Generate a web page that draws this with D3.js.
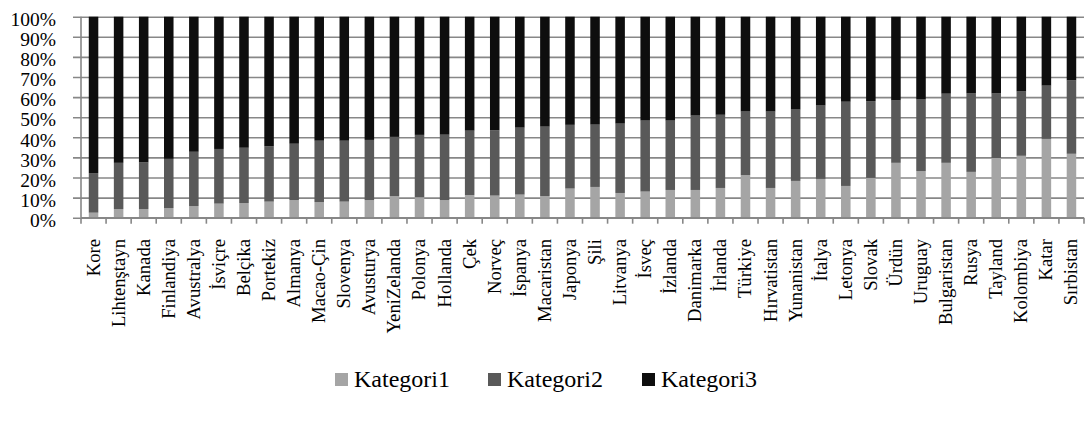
<!DOCTYPE html>
<html>
<head>
<meta charset="utf-8">
<script src="https://cdn.jsdelivr.net/npm/d3@7"></script>
<style>
  html, body { margin: 0; padding: 0; background: #fff; }
  svg { display: block; }
</style>
</head>
<body>
<svg id="chart" width="1088" height="421"></svg>
<script>
// Countries along the x axis
const countries = ["Kore","Lihtenştayn","Kanada","Finlandiya","Avustralya","İsviçre","Belçika","Portekiz","Almanya","Macao-Çin","Slovenya","Avusturya","YeniZelanda","Polonya","Hollanda","Çek","Norveç","İspanya","Macaristan","Japonya","Şili","Litvanya","İsveç","İzlanda","Danimarka","İrlanda","Türkiye","Hırvatistan","Yunanistan","İtalya","Letonya","Slovak","Ürdün","Uruguay","Bulgaristan","Rusya","Tayland","Kolombiya","Katar","Sırbistan"];

// Share of each category per country (%)
const kategori1 = [2.5,4.3,4.3,4.8,5.8,7.0,7.3,8.0,8.8,7.8,8.0,8.8,10.7,10.2,8.8,11.3,11.0,11.5,10.8,14.5,15.3,12.3,13.0,13.8,13.8,14.8,21.2,14.8,18.3,19.3,15.8,19.8,27.3,23.2,27.3,22.8,29.7,30.8,39.2,31.8];
const kategori2 = [19.7,23.0,23.2,24.5,27.0,27.2,27.5,27.5,28.0,30.5,30.3,29.9,29.5,31.0,32.5,32.0,32.5,33.3,34.5,31.7,31.0,34.5,35.3,34.5,37.0,36.4,31.6,38.0,35.5,36.5,41.9,38.2,31.0,35.6,34.4,39.0,32.1,32.0,26.5,36.5];
const kategori3 = [77.8,72.7,72.5,70.7,67.2,65.8,65.2,64.5,63.2,61.7,61.7,61.3,59.8,58.8,58.7,56.7,56.5,55.2,54.7,53.8,53.7,53.2,51.7,51.7,49.2,48.8,47.2,47.2,46.2,44.2,42.3,42.0,41.7,41.2,38.3,38.2,38.2,37.2,34.3,31.7];

const seriesNames = ["Kategori1","Kategori2","Kategori3"];
const yTicks = [0,10,20,30,40,50,60,70,80,90,100];

const colors = { Kategori1: "#a5a5a5", Kategori2: "#595959", Kategori3: "#0e0e0e" };
const gridColor = "#878787";
const FONT = "Liberation Serif";

const rows = countries.map((c, i) => ({
  country: c,
  Kategori1: kategori1[i],
  Kategori2: kategori2[i],
  Kategori3: kategori3[i]
}));

const svg = d3.select("#chart").attr("font-family", FONT);
const plot = { left: 81, right: 1084, top: 16.7, bottom: 217.7 };

const x = d3.scaleBand()
  .domain(countries)
  .range([plot.left, plot.right])
  .paddingInner(0.62)
  .paddingOuter(0.31);

const y = d3.scaleLinear()
  .domain([0, 100])
  .range([plot.bottom, plot.top]);

// Horizontal gridlines with outer tick marks on the left
const yAxis = d3.axisLeft(y)
  .tickValues(yTicks)
  .tickSize(plot.right - plot.left + 8)
  .tickPadding(17)
  .tickFormat(d => d + "%");

const gy = svg.append("g")
  .attr("transform", `translate(${plot.right},0)`)
  .call(yAxis)
  .attr("font-family", FONT)
  .attr("font-size", 19.5);
gy.select(".domain").remove();
gy.selectAll(".tick line")
  .attr("stroke", gridColor)
  .attr("stroke-width", 1.6);
gy.selectAll(".tick text")
  .attr("fill", "#000")
  .attr("dy", "0.45em")
  .style("font-family", FONT);

// Vertical axis line
svg.append("line")
  .attr("x1", plot.left).attr("x2", plot.left)
  .attr("y1", plot.top).attr("y2", plot.bottom)
  .attr("stroke", gridColor).attr("stroke-width", 1.6);

// Stacked bars
const stack = d3.stack().keys(seriesNames);
const layers = stack(rows);

svg.append("g")
  .selectAll("g")
  .data(layers)
  .join("g")
  .attr("fill", d => colors[d.key])
  .selectAll("rect")
  .data(d => d)
  .join("rect")
  .attr("x", d => x(d.data.country))
  .attr("width", x.bandwidth())
  .attr("y", d => y(d[1]))
  .attr("height", d => y(d[0]) - y(d[1]));

// Category axis: ticks sit between the bars
const step = x.step();
const boundaries = d3.range(countries.length + 1).map(i => plot.left + i * step);
svg.append("line")
  .attr("x1", plot.left).attr("x2", plot.right)
  .attr("y1", plot.bottom).attr("y2", plot.bottom)
  .attr("stroke", gridColor).attr("stroke-width", 1.6);
svg.append("g")
  .selectAll("line")
  .data(boundaries)
  .join("line")
  .attr("x1", d => d).attr("x2", d => d)
  .attr("y1", plot.bottom).attr("y2", plot.bottom + 6)
  .attr("stroke", gridColor).attr("stroke-width", 1.6);

// Rotated country labels
svg.append("g")
  .selectAll("text")
  .data(countries)
  .join("text")
  .attr("transform", d => `translate(${x(d) + x.bandwidth() / 2},239) rotate(-90)`)
  .attr("text-anchor", "end")
  .attr("dy", "0.32em")
  .attr("font-size", 18.67)
  .style("font-family", FONT)
  .text(d => d);

// Legend
const legendX = [335, 488, 642];
const legend = svg.append("g")
  .selectAll("g")
  .data(seriesNames)
  .join("g")
  .attr("transform", (d, i) => `translate(${legendX[i]},373)`);
legend.append("rect")
  .attr("width", 13).attr("height", 13)
  .attr("fill", d => colors[d]);
legend.append("text")
  .attr("x", 19)
  .attr("y", 14)
  .attr("font-size", 24)
  .style("font-family", FONT)
  .text(d => d);
</script>
</body>
</html>
